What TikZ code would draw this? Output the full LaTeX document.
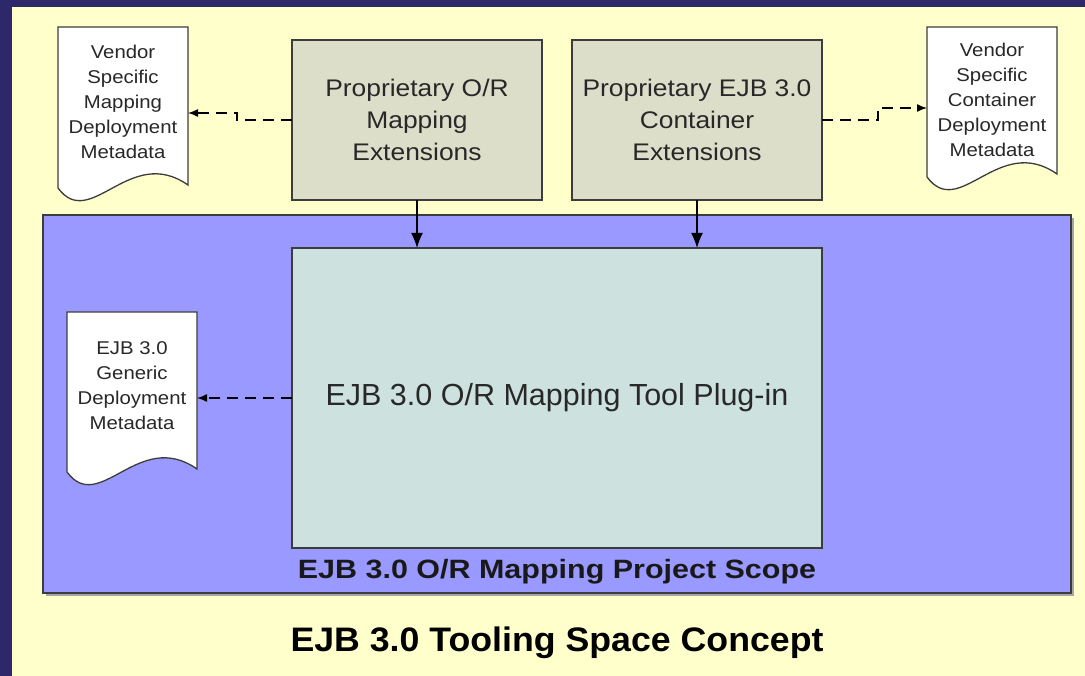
\documentclass[tikz,border=0pt]{standalone}
\usepackage{fontspec}
\setmainfont{Liberation Sans}
\newfontfamily\wfont[FakeStretch=1.1]{Liberation Sans}
\newfontfamily\wboldfont[FakeStretch=1.15]{Liberation Sans}
\newfontfamily\tboldfont[FakeStretch=1.05]{Liberation Sans}
\usetikzlibrary{arrows.meta,calc}
\definecolor{navy}{RGB}{45,40,105}
\definecolor{bgyel}{RGB}{255,255,204}
\definecolor{scopeblue}{RGB}{153,153,255}
\definecolor{propfill}{RGB}{221,222,202}
\definecolor{toolfill}{RGB}{205,226,222}
\definecolor{edgegray}{RGB}{60,60,60}
\definecolor{txtgray}{RGB}{40,40,40}
\tikzset{
  scopebox/.style={draw=edgegray, line width=1.5pt, fill=scopeblue, inner sep=0pt, outer sep=0pt},
  propbox/.style={draw=edgegray, line width=1.3pt, fill=propfill, inner sep=0pt, outer sep=0pt,
     align=center, text=txtgray, font=\wfont\fontsize{24}{32}\selectfont},
  toolbox/.style={draw=edgegray, line width=1.3pt, fill=toolfill, inner sep=0pt, outer sep=0pt,
     text=txtgray, font=\fontsize{30.5}{36}\selectfont},
  docarea/.style={inner sep=0pt, outer sep=0pt},
  docline/.style={draw=edgegray, line width=1.3pt, fill=white},
  doctext/.style={align=center, text=txtgray, font=\wfont\fontsize{18.5}{25}\selectfont},
  dasharr/.style={draw=black, line width=1.4pt, dash pattern=on 11pt off 7pt,
     -{Latex[length=10pt,width=8pt]}},
  solarr/.style={draw=black, line width=1.5pt, -{Latex[length=15pt,width=12pt]}},
  scopelabel/.style={text=black!90, font=\wboldfont\bfseries\fontsize{26.5}{30}\selectfont},
  titlelabel/.style={text=black, font=\tboldfont\bfseries\fontsize{34}{38}\selectfont},
}
\newcommand{\docshape}[2]{%
  \filldraw[docline] (#1.south west) -- (#1.north west) -- (#1.north east) -- ($(#1.south east)+(0,-3)$)
    .. controls ($(#1.south west)+(0.55*#2,-44)$) and ($(#1.south west)+(0.25*#2,44)$) .. (#1.south west) -- cycle;}
\begin{document}
\begin{tikzpicture}[x=1pt,y=-1pt]
\useasboundingbox (0,0) rectangle (1085,676);
\fill[bgyel] (0,0) rectangle (1085,676);
\fill[navy] (0,0) rectangle (1085,7);
\fill[navy] (0,0) rectangle (12,676);

% project scope region
\fill[black!35] (46,218) rectangle (1074,596);
\node[scopebox, anchor=north west, minimum width=1028pt, minimum height=378pt] (scope) at (43,215) {};

% boxes
\node[propbox, anchor=north west, minimum width=250pt, minimum height=160pt] (b1) at (292,40)
  {Proprietary O/R\\Mapping\\Extensions};
\node[propbox, anchor=north west, minimum width=250pt, minimum height=160pt] (b2) at (572,40)
  {Proprietary EJB 3.0\\Container\\Extensions};
\node[toolbox, anchor=north west, minimum width=530pt, minimum height=300pt] (tool) at (292,248)
  {EJB 3.0 O/R Mapping Tool Plug-in};

% documents
\node[docarea, anchor=north west, minimum width=130pt, minimum height=161pt] (d1) at (58,27) {};
\docshape{d1}{130}
\node[doctext] (d1t) at ($(d1.center)+(0,-6)$) {Vendor\\Specific\\Mapping\\Deployment\\Metadata};

\node[docarea, anchor=north west, minimum width=130pt, minimum height=150pt] (d2) at (927,27) {};
\docshape{d2}{130}
\node[doctext] (d2t) at ($(d2.center)+(0,-2)$) {Vendor\\Specific\\Container\\Deployment\\Metadata};

\node[docarea, anchor=north west, minimum width=130pt, minimum height=160pt] (d3) at (67,312) {};
\docshape{d3}{130}
\node[doctext] (d3t) at ($(d3.center)+(0,-6)$) {EJB 3.0\\Generic\\Deployment\\Metadata};

% connectors
\coordinate (k1) at (237,113);
\draw[dasharr] (b1.west) -| (k1) -- (k1 -| d1.east);
\coordinate (k2) at (878,108);
\draw[dasharr] (b2.east) -| (k2) -- (k2 -| d2.west);
\draw[dasharr] (tool.west) -- (tool.west -| d3.east);
\draw[solarr] (b1.south) -- (b1.south |- tool.north);
\draw[solarr] (b2.south) -- (b2.south |- tool.north);

% labels
\node[scopelabel] (sl) at (557,572) {EJB 3.0 O/R Mapping Project Scope};
\node[titlelabel] (tt) at (557,643) {EJB 3.0 Tooling Space Concept};
\end{tikzpicture}
\end{document}
